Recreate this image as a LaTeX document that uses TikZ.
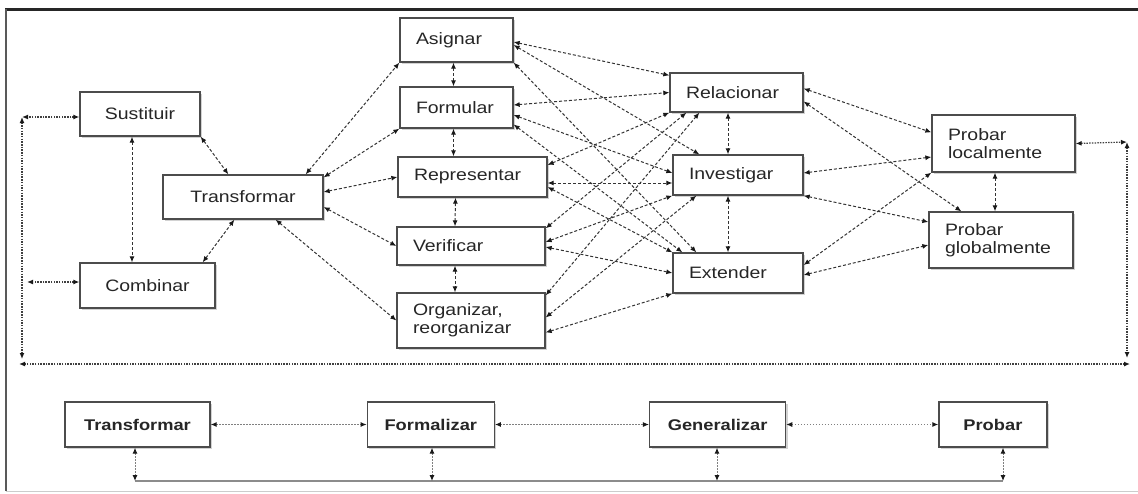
\documentclass[tikz,border=0pt]{standalone}
\usepackage{fontspec}
\setmainfont{Liberation Sans}[FakeStretch=1.18]
\usetikzlibrary{positioning,arrows.meta,shadows}
\tikzset{
 box/.style={draw=black!70, line width=1.3pt, fill=white, text=black!85,
  drop shadow={shadow xshift=2pt, shadow yshift=-2pt, fill=black!35},
  font=\fontsize{16.5}{18}\selectfont, inner ysep=0pt},
 cbox/.style={box, align=center, inner xsep=0pt},
 lbox/.style={box, align=left, inner xsep=16pt},
 bbox/.style={box, font=\fontsize{15.5}{18}\selectfont\bfseries, minimum height=45pt, inner xsep=0pt},
 ptip/.tip={Latex[length=6pt, width=5pt, color=black!90]},
 dlink/.style={draw=black!80, line width=1pt, dash pattern=on 3pt off 2pt, {ptip}-{ptip}},
 backlink/.style={draw=black!75, line width=1.2pt, dash pattern=on 1.5pt off 1.2pt, {ptip}-{ptip}},
 blink/.style={draw=black!50, line width=1pt, dash pattern=on 1.5pt off 1.5pt, {ptip}-{ptip}}
}
\begin{document}
\begin{tikzpicture}[x=1pt, y=-1pt]
 \useasboundingbox (0,0) rectangle (1138,493);
 % marco
 \draw[black!85, line width=3pt] (5,9) -- (1138,9);
 \draw[black!65, line width=1.5pt] (6,9) -- (6,491);
 \draw[black!20, line width=1pt] (6,491) -- (1138,491);

 \node[cbox, minimum width=120pt, minimum height=44pt] (sustituir) at (140,114) {Sustituir};
 \node[cbox, minimum width=160pt, minimum height=44pt] (transformar) at (243,197) {Transformar};
 \node[cbox, minimum width=135pt, minimum height=45pt] (combinar) at (147.5,285.5) {Combinar};
 \node[lbox, text width=81pt, minimum height=44pt] (asignar) at (456.5,40) {Asignar};
 \node[lbox, text width=81pt, minimum height=41pt] (formular) at (456.5,107.5) {Formular};
 \node[lbox, text width=117pt, minimum height=40pt] (representar) at (472.5,177) {Representar};
 \node[lbox, text width=116pt, minimum height=38pt] (verificar) at (471,246) {Verificar};
 \node[lbox, text width=116pt, minimum height=55pt] (organizar) at (471,320.5) {Organizar,\\reorganizar};
 \node[lbox, text width=101pt, minimum height=39pt] (relacionar) at (736.5,92.5) {Relacionar};
 \node[lbox, text width=98pt, minimum height=40pt] (investigar) at (738,175) {Investigar};
 \node[lbox, text width=98pt, minimum height=40pt] (extender) at (738,273) {Extender};
 \node[lbox, text width=111pt, minimum height=57pt] (plocal) at (1003.5,143.5) {Probar\\localmente};
 \node[lbox, text width=112pt, minimum height=56pt] (pglobal) at (1001,240) {Probar\\globalmente};

 \node[bbox, minimum width=145pt] (btransformar) at (137.5,424.5) {Transformar};
 \node[bbox, minimum width=127pt, right=156pt of btransformar] (formalizar) {Formalizar};
 \node[bbox, minimum width=136pt, right=154pt of formalizar] (generalizar) {Generalizar};
 \node[bbox, minimum width=108pt, right=152pt of generalizar] (probar) {Probar};

 % izquierda
 \draw[dlink] ([xshift=-8pt]sustituir.south) -- ([xshift=-15.5pt]combinar.north);
 \draw[dlink] (sustituir.south east) -- ([xshift=66pt]transformar.north west);
 \draw[dlink] ([xshift=-13pt]combinar.north east) -- ([xshift=72pt]transformar.south west);
 \draw[dlink] ([xshift=-18pt]transformar.north east) -- (asignar.south west);
 \draw[dlink] ([yshift=-3pt]transformar.north east) -- (formular.south west);
 \draw[dlink] ([yshift=5pt]transformar.east) -- (representar.west);
 \draw[dlink] ([yshift=-10pt]transformar.east) -- (verificar.west);
 \draw[dlink] ([xshift=-48pt]transformar.south east) -- (organizar.west);

 % columnas
 \draw[dlink] ([xshift=-3pt]asignar.south) -- ([xshift=-3pt]formular.north);
 \draw[dlink] ([xshift=-3pt]formular.south) -- ([xshift=-19pt]representar.north);
 \draw[dlink] ([xshift=-17pt]representar.south) -- ([xshift=-16pt]verificar.north);
 \draw[dlink] ([xshift=-16pt]verificar.south) -- ([xshift=-16pt]organizar.north);
 \draw[dlink] ([xshift=-8.5pt]relacionar.south) -- ([xshift=-10pt]investigar.north);
 \draw[dlink] ([xshift=-10pt]investigar.south) -- ([xshift=-10pt]extender.north);
 \draw[dlink] ([xshift=-8.5pt]plocal.south) -- ([xshift=-6pt]pglobal.north);

 % cruces
 \draw[dlink] ([yshift=-2pt]asignar.east) -- ([yshift=-3pt]relacionar.north west);
 \draw[dlink] ([yshift=-5pt]asignar.east) -- ([xshift=27pt]investigar.north west);
 \draw[dlink] (asignar.south east) -- ([xshift=24pt]extender.north west);
 \draw[dlink] ([yshift=2.5pt]formular.east) -- (relacionar.west);
 \draw[dlink] ([yshift=-7.5pt]formular.east) -- ([yshift=2pt]investigar.west);
 \draw[dlink] ([yshift=-17pt]formular.east) -- ([xshift=10pt]extender.north west);
 \draw[dlink] ([yshift=12pt]representar.east) -- (relacionar.south west);
 \draw[dlink] ([yshift=-6pt]representar.east) -- ([yshift=-8pt]investigar.west);
 \draw[dlink] ([yshift=-10pt]representar.east) -- (extender.north west);
 \draw[dlink] ([yshift=-2pt]verificar.north east) -- ([xshift=17pt]relacionar.south west);
 \draw[dlink] ([yshift=4pt]verificar.east) -- (investigar.south west);
 \draw[dlink] ([yshift=-1pt]verificar.east) -- (extender.west);
 \draw[dlink] ([yshift=-3pt]organizar.north east) -- ([xshift=30pt]relacionar.south west);
 \draw[dlink] ([yshift=3pt]organizar.east) -- ([xshift=24pt]investigar.south west);
 \draw[dlink] ([yshift=-12pt]organizar.east) -- (extender.south west);

 % hacia probar
 \draw[dlink] ([yshift=4pt]relacionar.east) -- ([yshift=-18pt]plocal.north west);
 \draw[dlink] ([yshift=-9pt]relacionar.east) -- ([xshift=33pt]pglobal.north west);
 \draw[dlink] ([yshift=2pt]investigar.east) -- ([yshift=-13.5pt]plocal.west);
 \draw[dlink] (investigar.south east) -- ([yshift=18pt]pglobal.west);
 \draw[dlink] ([yshift=8pt]extender.east) -- (plocal.south west);
 \draw[dlink] ([yshift=-2pt]extender.east) -- ([yshift=-5pt]pglobal.west);

 % lazo exterior
 \coordinate (lazoA) at (22,117);
 \coordinate (lazoB) at (22,359);
 \coordinate (lazoC) at (27,282);
 \coordinate (lazoD) at (1127,142);
 \coordinate (lazoE) at (1127,358);
 \coordinate (lazoF) at (1130,364);
 \coordinate (lazoG) at (19,364);
 \draw[backlink] ([yshift=-3pt]sustituir.west) -- (lazoA);
 \draw[backlink] (lazoA) -- (lazoB);
 \draw[backlink] ([yshift=3.5pt]combinar.west) -- (lazoC);
 \draw[backlink] (plocal.east) -- (lazoD);
 \draw[backlink] (lazoD) -- (lazoE);
 \draw[backlink] (lazoF) -- (lazoG);

 % fila inferior
 \coordinate (lineaT) at (135,481);
 \coordinate (lineaF) at (432,481);
 \coordinate (lineaG) at (717,481);
 \coordinate (lineaP) at (1003,481);
 \draw[black!45, line width=1.5pt] (lineaT) -- (lineaP);
 \draw[blink] (btransformar.east) -- (formalizar.west);
 \draw[blink] (formalizar.east) -- (generalizar.west);
 \draw[blink] (generalizar.east) -- (probar.west);
 \draw[blink] (btransformar.south -| lineaT) -- (lineaT);
 \draw[blink] (formalizar.south -| lineaF) -- (lineaF);
 \draw[blink] (generalizar.south -| lineaG) -- (lineaG);
 \draw[blink] (probar.south -| lineaP) -- (lineaP);
\end{tikzpicture}
\end{document}
